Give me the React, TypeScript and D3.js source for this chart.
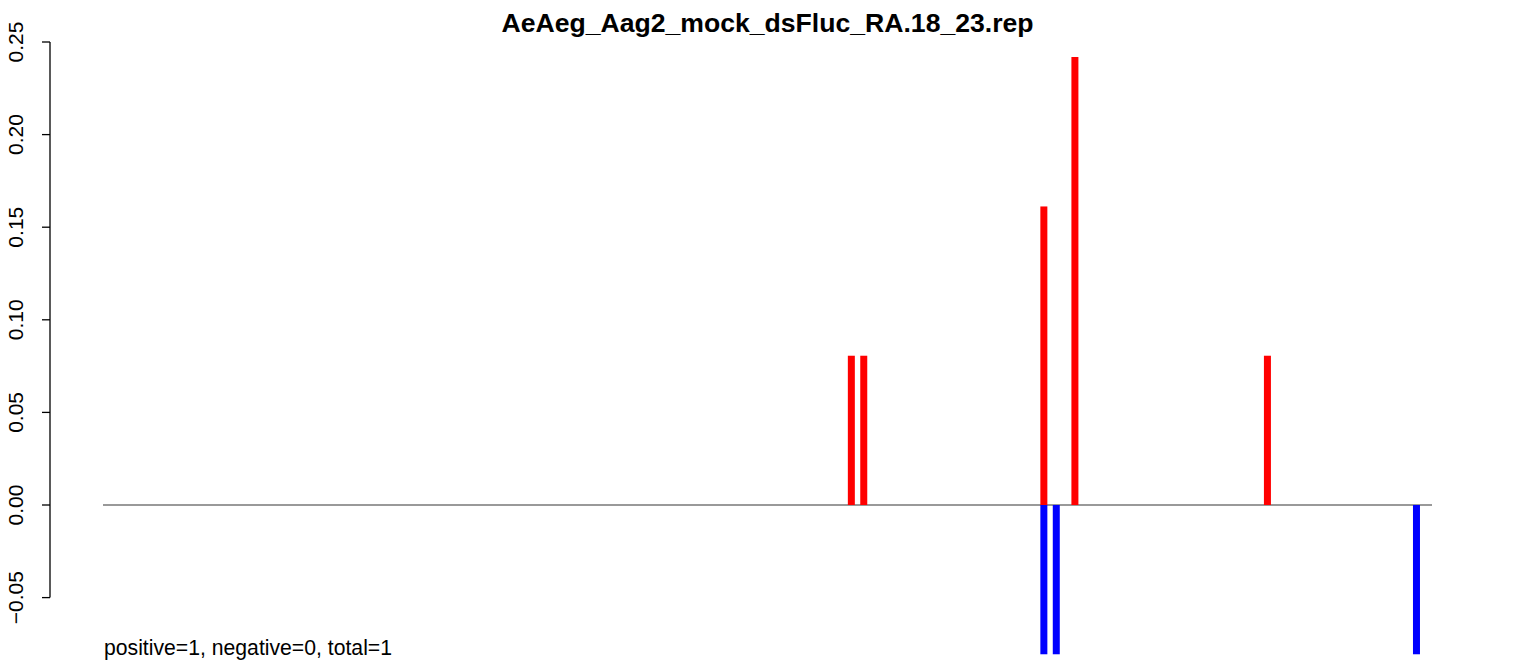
import React from "react";
import * as d3 from "d3";

const TITLE = "AeAeg_Aag2_mock_dsFluc_RA.18_23.rep";
const FOOTNOTE = "positive=1, negative=0, total=1";

// sequence positions spanned by the zero line
const SEQ_START = 0.5;
const SEQ_END = 214.5;

// positive-strand (red) values
const posPositions = [121, 123, 152, 157, 188];
const posValues = [0.0806, 0.0806, 0.1612, 0.2419, 0.0806];

// negative-strand (blue) values
const negPositions = [152, 154, 212];
const negValues = [-0.0806, -0.0806, -0.0806];

const yTicks = [-0.05, 0, 0.05, 0.1, 0.15, 0.2, 0.25];
const yTickLabels = ["\u22120.05", "0.00", "0.05", "0.10", "0.15", "0.20", "0.25"];

const W = 1533;
const H = 666;

export default function App() {
  const x = d3.scaleLinear().domain([SEQ_START, SEQ_END]).range([103, 1432]);
  const y = d3.scaleLinear().domain([0, 0.25]).range([505, 42]);
  const barW = 7;
  const axisX = 50;
  const font = "'Liberation Sans', Arial, Helvetica, sans-serif";

  return (
    <div style={{ position: "absolute", left: 0, top: 0 }}>
      <svg width={W} height={H} style={{ display: "block", background: "#fff" }}>
        <rect x={0} y={0} width={W} height={H} fill="#fff" />
        <text
          x={767.5}
          y={32}
          textAnchor="middle"
          fontFamily={font}
          fontWeight="bold"
          fontSize={26.6}
          fill="#000"
        >
          {TITLE}
        </text>
        {/* y axis */}
        <line
          x1={axisX}
          x2={axisX}
          y1={y(yTicks[0])}
          y2={y(yTicks[yTicks.length - 1])}
          stroke="#000"
          strokeWidth={1.3}
        />
        {yTicks.map((t, i) => (
          <g key={i}>
            <line x1={axisX - 8} x2={axisX} y1={y(t)} y2={y(t)} stroke="#000" strokeWidth={1.3} />
            <text
              transform={`translate(${axisX - 27},${y(t)}) rotate(-90)`}
              textAnchor="middle"
              fontFamily={font}
              fontSize={21}
              fill="#000"
            >
              {yTickLabels[i]}
            </text>
          </g>
        ))}
        {/* zero line */}
        <line x1={x(SEQ_START)} x2={x(SEQ_END)} y1={y(0)} y2={y(0)} stroke="#777" strokeWidth={1.3} />
        {/* positive bars */}
        {posPositions.map((p, i) => (
          <rect
            key={"p" + i}
            x={x(p) - barW / 2}
            width={barW}
            y={y(posValues[i])}
            height={y(0) - y(posValues[i])}
            fill="#ff0000"
          />
        ))}
        {/* negative bars */}
        {negPositions.map((p, i) => (
          <rect
            key={"n" + i}
            x={x(p) - barW / 2}
            width={barW}
            y={y(0)}
            height={y(negValues[i]) - y(0)}
            fill="#0000ff"
          />
        ))}
        <text x={104} y={655} fontFamily={font} fontSize={21.2} fill="#000">
          {FOOTNOTE}
        </text>
      </svg>
    </div>
  );
}
